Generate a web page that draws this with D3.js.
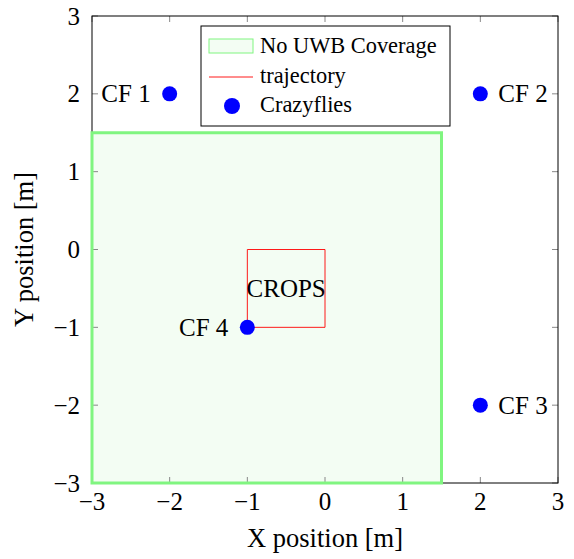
<!DOCTYPE html>
<html>
<head>
<meta charset="utf-8">
<script src="https://cdn.jsdelivr.net/npm/d3@7"></script>
<style>
  body { margin: 0; background: #fff; }
  svg text { font-family: "Liberation Serif", "Times New Roman", serif; fill: #000; }
</style>
</head>
<body>
<svg id="chart" width="574" height="559"></svg>
<script>
// Axis ticks
const xTicks = [-3, -2, -1, 0, 1, 2, 3];
const yTicks = [-3, -2, -1, 0, 1, 2, 3];

// Region without UWB coverage: [x0, x1, y0, y1]
const noCoverage = [-3, 1.5, -3, 1.5];

// Trajectory (closed square)
const trajX = [-1, 0, 0, -1, -1];
const trajY = [-1, -1, 0, 0, -1];

// Crazyflie positions and labels
const cfNames = ["CF 1", "CF 2", "CF 3", "CF 4"];
const cfX = [-2, 2, 2, -1];
const cfY = [2, 2, -2, -1];
const cfSide = ["left", "right", "right", "left"];

const svg = d3.select("#chart");
const m = { left: 92, right: 558, top: 16, bottom: 483 };

const x = d3.scaleLinear().domain([-3, 3]).range([m.left, m.right]);
const y = d3.scaleLinear().domain([-3, 3]).range([m.bottom, m.top]);

const fsTick = 25, fsLabel = 25, fsTitle = 26.5, fsLegend = 22.4;
const green = "#80f580", greenFill = "#f3fdf3";
const fmt = t => t < 0 ? "\u2212" + Math.abs(t) : String(t);

// No-coverage area
svg.append("rect")
  .attr("x", x(noCoverage[0])).attr("y", y(noCoverage[3]))
  .attr("width", x(noCoverage[1]) - x(noCoverage[0]))
  .attr("height", y(noCoverage[2]) - y(noCoverage[3]))
  .attr("fill", greenFill).attr("stroke", "none");

// Trajectory
svg.append("path")
  .datum(trajX.map((v, i) => [v, trajY[i]]))
  .attr("d", d3.line().x(d => x(d[0])).y(d => y(d[1])))
  .attr("fill", "none").attr("stroke", "#ff0000").attr("stroke-width", 0.9);

// CROPS label at the centre of the trajectory
svg.append("text")
  .attr("x", x(-0.5)).attr("y", y(-0.5))
  .attr("text-anchor", "middle").attr("dominant-baseline", "central")
  .attr("font-size", fsLabel).text("CROPS");

// Axis frame and inward ticks (all four sides)
const axisG = svg.append("g");
const tickLen = 6;
xTicks.forEach(t => {
  axisG.append("line").attr("x1", x(t)).attr("x2", x(t)).attr("y1", m.bottom).attr("y2", m.bottom - tickLen)
    .attr("stroke", "#888").attr("stroke-width", 1);
  axisG.append("line").attr("x1", x(t)).attr("x2", x(t)).attr("y1", m.top).attr("y2", m.top + tickLen)
    .attr("stroke", "#888").attr("stroke-width", 1);
  axisG.append("text").attr("x", x(t)).attr("y", m.bottom + 27)
    .attr("text-anchor", "middle").attr("font-size", fsTick).text(fmt(t));
});
yTicks.forEach(t => {
  axisG.append("line").attr("y1", y(t)).attr("y2", y(t)).attr("x1", m.left).attr("x2", m.left + tickLen)
    .attr("stroke", "#888").attr("stroke-width", 1);
  axisG.append("line").attr("y1", y(t)).attr("y2", y(t)).attr("x1", m.right).attr("x2", m.right - tickLen)
    .attr("stroke", "#888").attr("stroke-width", 1);
  axisG.append("text").attr("x", m.left - 12).attr("y", y(t) + 8.5)
    .attr("text-anchor", "end").attr("font-size", fsTick).text(fmt(t));
});
axisG.append("rect")
  .attr("x", m.left).attr("y", m.top)
  .attr("width", m.right - m.left).attr("height", m.bottom - m.top)
  .attr("fill", "none").attr("stroke", "#000").attr("stroke-width", 1);

// Green border of the no-coverage area
svg.append("rect")
  .attr("x", x(noCoverage[0])).attr("y", y(noCoverage[3]))
  .attr("width", x(noCoverage[1]) - x(noCoverage[0]))
  .attr("height", y(noCoverage[2]) - y(noCoverage[3]))
  .attr("fill", "none").attr("stroke", green).attr("stroke-width", 3);

// Crazyflies
cfNames.forEach((name, i) => {
  svg.append("circle").attr("cx", x(cfX[i])).attr("cy", y(cfY[i])).attr("r", 7.5).attr("fill", "#0000ff");
  const left = cfSide[i] === "left";
  svg.append("text")
    .attr("x", x(cfX[i]) + (left ? -19 : 18)).attr("y", y(cfY[i]) + 8.5)
    .attr("text-anchor", left ? "end" : "start")
    .attr("font-size", fsLabel).text(name);
});

// Axis titles
svg.append("text").attr("x", x(0)).attr("y", 547)
  .attr("text-anchor", "middle").attr("font-size", fsTitle).text("X position [m]");
svg.append("text")
  .attr("transform", `translate(33,${y(0)}) rotate(-90)`)
  .attr("text-anchor", "middle").attr("font-size", fsTitle).text("Y position [m]");

// Legend
const lg = svg.append("g").attr("transform", "translate(201,26)");
lg.append("rect").attr("width", 249).attr("height", 100).attr("fill", "#fff").attr("stroke", "#000").attr("stroke-width", 1);
const rowY = [20, 50, 79];
lg.append("rect").attr("x", 8).attr("y", rowY[0] - 7).attr("width", 44).attr("height", 14)
  .attr("fill", greenFill).attr("stroke", green).attr("stroke-width", 1);
lg.append("line").attr("x1", 8).attr("x2", 52).attr("y1", rowY[1] + 1).attr("y2", rowY[1] + 1)
  .attr("stroke", "#ff0000").attr("stroke-width", 0.9);
lg.append("circle").attr("cx", 31).attr("cy", rowY[2] + 1).attr("r", 8).attr("fill", "#0000ff");
["No UWB Coverage", "trajectory", "Crazyflies"].forEach((t, i) => {
  lg.append("text").attr("x", 59).attr("y", rowY[i] + 7)
    .attr("font-size", fsLegend).text(t);
});
</script>
</body>
</html>
